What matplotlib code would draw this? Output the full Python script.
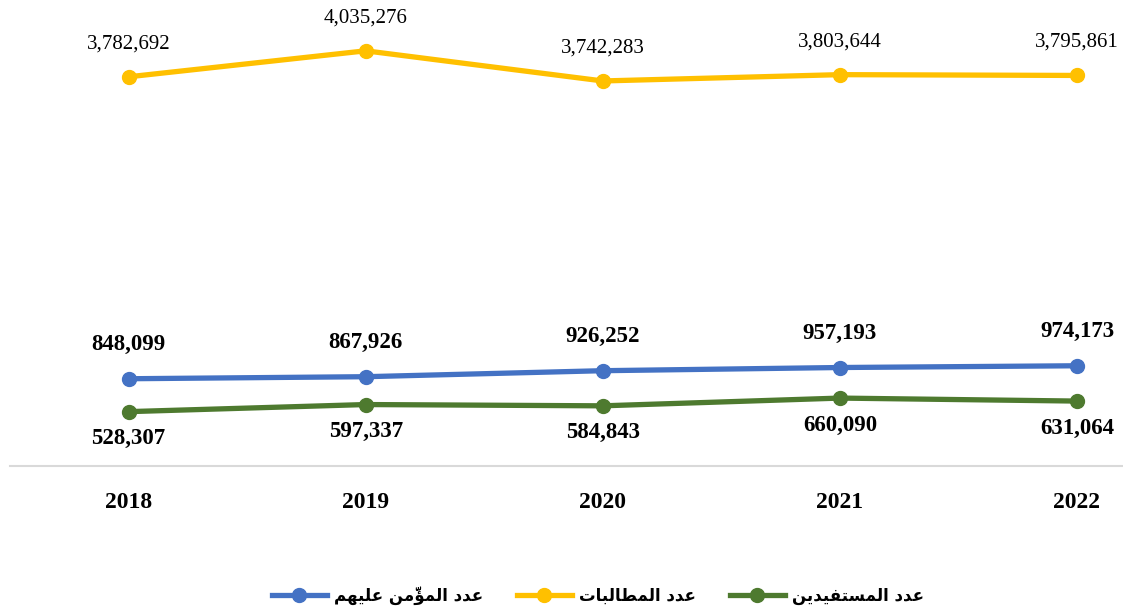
# -*- coding: utf-8 -*-
# line chart: insured / claims / beneficiaries 2018-2022

import numpy as np
import matplotlib.pyplot as plt
from matplotlib.lines import Line2D

# data
years = ['2018', '2019', '2020', '2021', '2022']
insured = [848099, 867926, 926252, 957193, 974173]
claims = [3782692, 4035276, 3742283, 3803644, 3795861]
beneficiaries = [528307, 597337, 584843, 660090, 631064]

lbl_insured = 'عدد المؤمَّن عليهم'
lbl_claims = 'عدد المطالبات'
lbl_benef = 'عدد المستفيدين'

# simple arabic shaping (matplotlib has no RTL / joining support)
# letter: (isolated, final, initial, medial) ; None = no left join
forms = {
    'ا': ('\uFE8D', '\uFE8E', None, None),
    'ب': ('\uFE8F', '\uFE90', '\uFE91', '\uFE92'),
    'ت': ('\uFE95', '\uFE96', '\uFE97', '\uFE98'),
    'د': ('\uFEA9', '\uFEAA', None, None),
    'س': ('\uFEB1', '\uFEB2', '\uFEB3', '\uFEB4'),
    'ط': ('\uFEC1', '\uFEC2', '\uFEC3', '\uFEC4'),
    'ع': ('\uFEC9', '\uFECA', '\uFECB', '\uFECC'),
    'ف': ('\uFED1', '\uFED2', '\uFED3', '\uFED4'),
    'ل': ('\uFEDD', '\uFEDE', '\uFEDF', '\uFEE0'),
    'م': ('\uFEE1', '\uFEE2', '\uFEE3', '\uFEE4'),
    'ن': ('\uFEE5', '\uFEE6', '\uFEE7', '\uFEE8'),
    'ه': ('\uFEE9', '\uFEEA', '\uFEEB', '\uFEEC'),
    'ؤ': ('\uFE85', '\uFE86', None, None),
    'ي': ('\uFEF1', '\uFEF2', '\uFEF3', '\uFEF4'),
}
marks = '\u064B\u064C\u064D\u064E\u064F\u0650\u0651\u0652'


def shape(txt):
    # group base letters with their marks
    groups = []
    for ch in txt:
        if ch in marks and groups:
            groups[-1][1] += ch
        else:
            groups.append([ch, ''])
    out = []
    for i, (ch, mk) in enumerate(groups):
        if ch not in forms:
            out.append(ch + mk)
            continue
        prev = groups[i - 1][0] if i > 0 else None
        nxt = groups[i + 1][0] if i + 1 < len(groups) else None
        pj = prev in forms and forms[prev][2] is not None
        nj = nxt in forms and forms[ch][2] is not None
        f = forms[ch]
        if pj and nj:
            g = f[3]
        elif pj:
            g = f[1]
        elif nj:
            g = f[2]
        else:
            g = f[0]
        out.append(g + mk)
    return ''.join(out[::-1])


blue = '#4472C4'
yellow = '#FFC000'
green = '#4E7A2F'

fig = plt.figure(figsize=(11.23, 6.12), dpi=100)
ax = fig.add_axes([10 / 1123, 146 / 612, 1113 / 1123, 463 / 612])

x = np.arange(len(years))
lw = 3.8
ms = 10
ax.plot(x, claims, color=yellow, lw=lw, marker='o', ms=ms, solid_capstyle='round')
ax.plot(x, insured, color=blue, lw=lw, marker='o', ms=ms, solid_capstyle='round')
ax.plot(x, beneficiaries, color=green, lw=lw, marker='o', ms=ms, solid_capstyle='round')

for i in range(len(years)):
    ax.annotate(format(claims[i], ','), (x[i], claims[i]), xytext=(0, 33),
                textcoords='offset pixels', ha='center', va='center',
                fontsize=15, family='Liberation Serif')
    ax.annotate(format(insured[i], ','), (x[i], insured[i]), xytext=(0, 34),
                textcoords='offset pixels', ha='center', va='center',
                fontsize=16.5, fontweight='bold', family='Liberation Serif')
    ax.annotate(format(beneficiaries[i], ','), (x[i], beneficiaries[i]), xytext=(0, -27),
                textcoords='offset pixels', ha='center', va='center',
                fontsize=16.5, fontweight='bold', family='Liberation Serif')

ax.set_xlim(-0.5, (1123 - 129) / 237)
ax.set_ylim(0, 4500000)
ax.set_xticks(x)
ax.set_xticklabels(years, fontsize=17, fontweight='bold', family='Liberation Serif')
ax.tick_params(axis='x', length=0, pad=19)
ax.set_yticks([])
for s in ['top', 'right', 'left']:
    ax.spines[s].set_visible(False)
ax.spines['bottom'].set_color('#D9D9D9')
ax.spines['bottom'].set_linewidth(1.5)

legend_elements = [
    Line2D([0], [0], color=blue, lw=lw, marker='o', ms=ms, label=shape(lbl_insured)),
    Line2D([0], [0], color=yellow, lw=lw, marker='o', ms=ms, label=shape(lbl_claims)),
    Line2D([0], [0], color=green, lw=lw, marker='o', ms=ms, label=shape(lbl_benef)),
]
fig.legend(handles=legend_elements, loc='center', bbox_to_anchor=(598 / 1123, 1 - 596 / 612),
           ncol=3, frameon=False, handlelength=3.3, handletextpad=0.45, columnspacing=2.0,
           prop={'family': 'DejaVu Sans', 'weight': 'bold', 'size': 12})

plt.savefig('out.png', dpi=100)
